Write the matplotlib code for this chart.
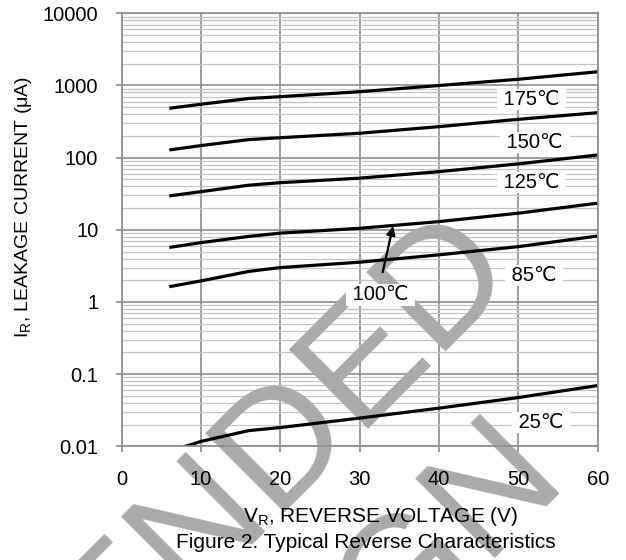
import numpy as np
from matplotlib import pyplot as plt
from matplotlib.ticker import FixedLocator, NullLocator, LogLocator

plt.rcParams['font.family'] = ['Liberation Sans', 'DejaVu Sans']

# reverse voltage (V) and leakage current (uA) per junction temperature
volts = [6, 10, 16, 20, 30, 40, 50, 60]
i_175 = [483, 550, 660, 700, 820, 1000, 1220, 1550]
i_150 = [128, 147, 178, 189, 218, 269, 340, 420]
i_125 = [29.5, 33.8, 41.5, 45, 52, 64, 82, 109]
i_100 = [5.7, 6.65, 8.1, 9.0, 10.5, 13.0, 17.0, 23.4]
i_85 = [1.63, 1.96, 2.65, 3.0, 3.56, 4.5, 5.85, 8.2]
i_25 = [0.0085, 0.0117, 0.0165, 0.0182, 0.0246, 0.0338, 0.0474, 0.0695]

# curve labels
lab_text = ['175℃', '150℃', '125℃', '85℃', '100℃', '25℃']
lab_x = [51.7, 52.1, 51.7, 52.0, 32.6, 52.9]
lab_y = [630, 160, 44.7, 2.30, 1.25, 0.0211]

x_ticks = [0, 10, 20, 30, 40, 50, 60]
y_ticks = [0.01, 0.1, 1, 10, 100, 1000, 10000]
y_ticklabels = ['0.01', '0.1', '1', '10', '100', '1000', '10000']

grid_c = '#8c8c8c'
minor_c = '#c4c4c4'

fig = plt.figure(figsize=(6.26, 5.6), dpi=100)
rect = [0.1944, 0.2030, 0.7604, 0.7732]

# background axes: grid only
ax_bg = fig.add_axes(rect, zorder=0)
ax_bg.set_yscale('log')
ax_bg.set_xlim(0, 60)
ax_bg.set_ylim(0.01, 10000)
ax_bg.xaxis.set_major_locator(FixedLocator(x_ticks))
ax_bg.yaxis.set_major_locator(FixedLocator(y_ticks))
ax_bg.yaxis.set_minor_locator(LogLocator(base=10, subs=np.arange(2, 10), numticks=20))
ax_bg.grid(which='major', color=grid_c, lw=1.2)
ax_bg.grid(which='minor', axis='y', color=minor_c, lw=0.9)
ax_bg.tick_params(which='both', length=0, labelleft=False, labelbottom=False)
for s in ax_bg.spines.values():
    s.set_visible(False)

# watermark between grid and curves
wm = dict(fontsize=118, color='#aaaaaa', rotation=45, rotation_mode='anchor',
          ha='right', va='baseline', zorder=1)
fig.text(520 / 626, 1 - 277 / 560, 'NOT RECOMMENDED', **wm)
fig.text(570 / 626, 1 - 484 / 560, 'FOR NEW DESIGN', **wm)

# front axes
ax = fig.add_axes(rect, zorder=2)
ax.patch.set_visible(False)
ax.set_yscale('log')
ax.set_xlim(0, 60)
ax.set_ylim(0.01, 10000)

for cur in [i_175, i_150, i_125, i_100, i_85, i_25]:
    ax.plot(volts, cur, color='black', lw=2.3, solid_capstyle='butt')

for t, lx, ly in zip(lab_text, lab_x, lab_y):
    ax.text(lx, ly, ' ' + t + ' ', fontsize=14.5, ha='center', va='center',
            bbox=dict(boxstyle='square,pad=0.05', fc='white', ec='none'), zorder=4)

ax.annotate('', xy=(34.2, 11.3), xytext=(32.9, 2.6),
            arrowprops=dict(arrowstyle='-|>', color='black', lw=1.6, mutation_scale=13,
                            shrinkA=0, shrinkB=0), zorder=5)

ax.xaxis.set_major_locator(FixedLocator(x_ticks))
ax.yaxis.set_major_locator(FixedLocator(y_ticks))
ax.yaxis.set_minor_locator(NullLocator())
ax.set_yticklabels(y_ticklabels)
ax.tick_params(which='major', direction='out', length=4.3, width=1.2, color=grid_c,
               labelsize=14.5, pad=12.5)
for s in ax.spines.values():
    s.set_color(grid_c)
    s.set_linewidth(1.2)

fig.text(381 / 626, 1 - 516 / 560, r'V$_\mathregular{R}$, REVERSE VOLTAGE (V)',
         fontsize=15, ha='center', va='center', zorder=3)
fig.text(366 / 626, 1 - 543 / 560, 'Figure 2. Typical Reverse Characteristics',
         fontsize=15, ha='center', va='center', zorder=3)
fig.text(24 / 626, 1 - 207 / 560, r'I$_\mathregular{R}$, LEAKAGE CURRENT (μA)',
         fontsize=14, ha='center', va='center', rotation=90, zorder=3)

fig.savefig('out.png', dpi=100)
